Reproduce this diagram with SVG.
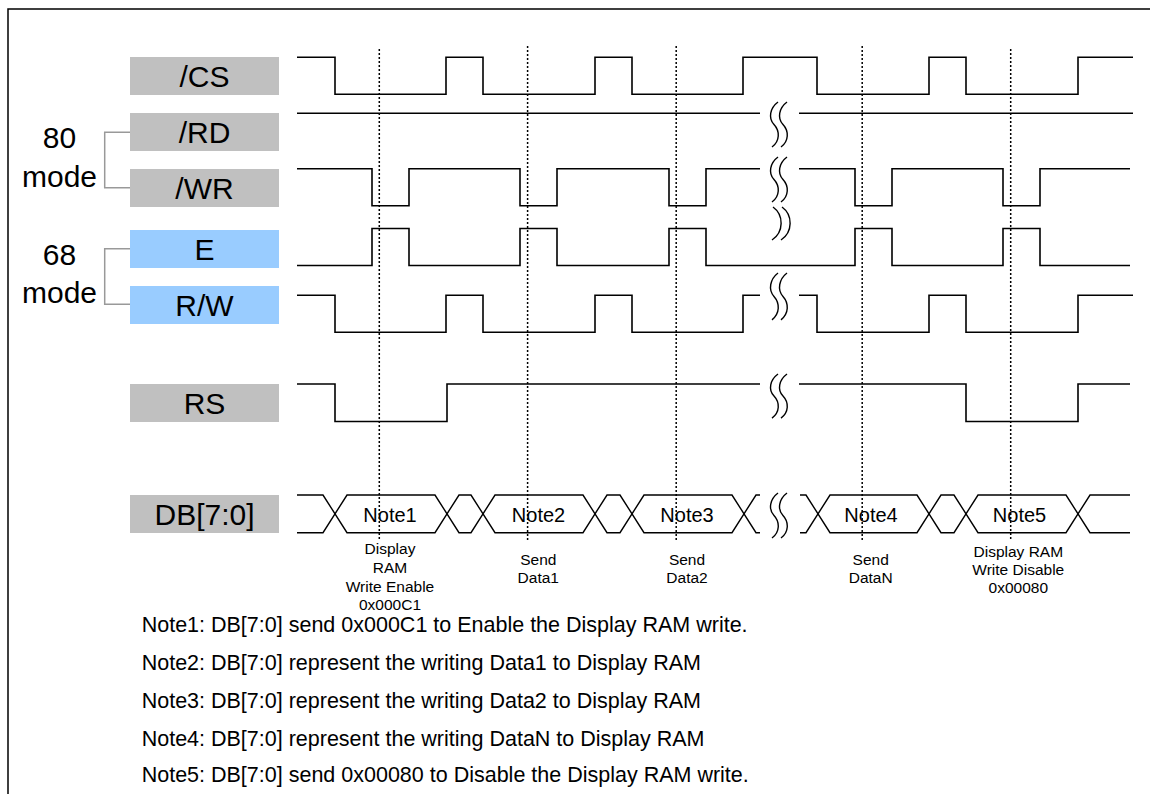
<svg xmlns="http://www.w3.org/2000/svg" xmlns:xlink="http://www.w3.org/1999/xlink" width="1150" height="794" viewBox="0 0 1150 794">
<style>
.box-g{fill:#C0C0C0}
.box-b{fill:#99CCFF}
.lbl{font-family:"Liberation Sans",Arial,sans-serif;font-size:30px;fill:#000;text-anchor:middle}
.sig{fill:none;stroke:#000;stroke-width:1.6}
.db{fill:none;stroke:#000;stroke-width:1.4}
.dot{fill:none;stroke:#000;stroke-width:1.5;stroke-dasharray:2,2}
.brk{fill:none;stroke:#000;stroke-width:1.4}
.brace{fill:none;stroke:#999;stroke-width:1.5}
.hx{font-family:"Liberation Sans",Arial,sans-serif;font-size:20px;fill:#000;text-anchor:middle}
.sm{font-family:"Liberation Sans",Arial,sans-serif;font-size:15.5px;fill:#000;text-anchor:middle}
.note{font-family:"Liberation Sans",Arial,sans-serif;font-size:21.5px;fill:#000}
</style>
<defs>
<path id="sq" d="M9,0 C1,6 -1,16 5,22.5 C11,29 11,39 3,45 M18,0 C10,6 8,16 14,22.5 C20,29 20,39 12,45"/>
</defs>
<rect x="8" y="9" width="1150" height="800" fill="#fff" stroke="#000" stroke-width="1.5"/>

<g id="node-cs"><rect class="box-g" x="130" y="57" width="149" height="38"/><text class="lbl" x="204.5" y="86.5">/CS</text></g>
<g id="node-rd"><rect class="box-g" x="130" y="113" width="149" height="38"/><text class="lbl" x="204.5" y="142.5">/RD</text></g>
<g id="node-wr"><rect class="box-g" x="130" y="169" width="149" height="38"/><text class="lbl" x="204.5" y="198.5">/WR</text></g>
<g id="node-e"><rect class="box-b" x="130" y="230" width="149" height="38"/><text class="lbl" x="204.5" y="259.5">E</text></g>
<g id="node-rw"><rect class="box-b" x="130" y="286" width="149" height="38"/><text class="lbl" x="204.5" y="315.5">R/W</text></g>
<g id="node-rs"><rect class="box-g" x="130" y="384" width="149" height="38"/><text class="lbl" x="204.5" y="413.5">RS</text></g>
<g id="node-db"><rect class="box-g" x="130" y="495" width="149" height="38"/><text class="lbl" x="204.5" y="524.5">DB[7:0]</text></g>

<g id="mode80"><text class="lbl" x="59.5" y="148.3">80</text><text class="lbl" x="59.5" y="186.7">mode</text><path class="brace" d="M130,132.3 H104.7 V187.7 H130"/></g>
<g id="mode68"><text class="lbl" x="59.5" y="265">68</text><text class="lbl" x="59.5" y="303.3">mode</text><path class="brace" d="M130,248.7 H104.7 V304.3 H130"/></g>

<g id="connectors">
<path class="sig" d="M297,57.3 H335 V94.3 H446 V57.3 H483 V94.3 H595 V57.3 H632 V94.3 H743 V57.3 H817 V94.3 H929 V57.3 H966 V94.3 H1078 V57.3 H1133"/>
<path class="sig" d="M297,113.3 H760 M799,113.3 H1133"/>
<path class="sig" d="M297,168.7 H372 V205.7 H409 V168.7 H520 V205.7 H557 V168.7 H669 V205.7 H706 V168.7 H760 M799,168.7 H855 V205.7 H892 V168.7 H1003 V205.7 H1040 V168.7 H1130"/>
<path class="sig" d="M297,265.5 H372 V228.5 H409 V265.5 H520 V228.5 H557 V265.5 H669 V228.5 H706 V265.5 H855 V228.5 H892 V265.5 H1003 V228.5 H1040 V265.5 H1130"/>
<path class="sig" d="M297,295.3 H335 V332.3 H446 V295.3 H483 V332.3 H595 V295.3 H632 V332.3 H743 V295.3 H760 M799,295.3 H817 V332.3 H929 V295.3 H966 V332.3 H1078 V295.3 H1133"/>
<path class="sig" d="M297,384 H335 V421.5 H447 V384 H760 M799,384 H966 V421.5 H1078 V384 H1130"/>
<polyline class="db" points="297,495 323,495 347,532.7 435,532.7 459,495 471,495 495,532.7 583,532.7 607,495 620,495 644,532.7 732,532.7 756,495 760,495"/>
<polyline class="db" points="297,532.7 323,532.7 347,495 435,495 459,532.7 471,532.7 495,495 583,495 607,532.7 620,532.7 644,495 732,495 756,532.7 760,532.7"/>
<polyline class="db" points="800,495 806,495 830,532.7 917,532.7 941,495 954,495 978,532.7 1066,532.7 1090,495 1130,495"/>
<polyline class="db" points="800,532.7 806,532.7 830,495 917,495 941,532.7 954,532.7 978,495 1066,495 1090,532.7 1130,532.7"/>
<use xlink:href="#sq" class="brk" transform="translate(769,102)"/>
<use xlink:href="#sq" class="brk" transform="translate(769,157)"/>
<path class="brk" d="M773,207 C784,215 784,232 772,240 M782,207 C793,215 793,232 781,240"/>
<use xlink:href="#sq" class="brk" transform="translate(769,273) scale(1,1.04)"/>
<use xlink:href="#sq" class="brk" transform="translate(769,374) scale(1,0.98)"/>
<use xlink:href="#sq" class="brk" transform="translate(769,493)"/>
<path class="dot" d="M379.3,49 V541"/>
<path class="dot" d="M527.6,46 V541"/>
<path class="dot" d="M676.2,46 V541"/>
<path class="dot" d="M862.2,46 V541"/>
<path class="dot" d="M1010.7,49 V541"/>
</g>

<g id="db-labels">
<text class="hx" x="390" y="521.5">Note1</text>
<text class="hx" x="538.5" y="521.5">Note2</text>
<text class="hx" x="687" y="521.5">Note3</text>
<text class="hx" x="871" y="521.5">Note4</text>
<text class="hx" x="1019.5" y="521.5">Note5</text>
</g>

<g id="desc">
<text class="sm" x="390" y="554">Display</text>
<text class="sm" x="390" y="572.7">RAM</text>
<text class="sm" x="390" y="591.5">Write Enable</text>
<text class="sm" x="390" y="610">0x000C1</text>
<text class="sm" x="538.3" y="565">Send</text>
<text class="sm" x="538.3" y="583.3">Data1</text>
<text class="sm" x="687" y="565">Send</text>
<text class="sm" x="687" y="583.3">Data2</text>
<text class="sm" x="870.7" y="565">Send</text>
<text class="sm" x="870.7" y="583.3">DataN</text>
<text class="sm" x="1018.3" y="556.5">Display RAM</text>
<text class="sm" x="1018.3" y="575">Write Disable</text>
<text class="sm" x="1018.3" y="593.3">0x00080</text>
</g>

<g id="notes">
<text class="note" x="141.7" y="632">Note1: DB[7:0] send 0x000C1 to Enable the Display RAM write.</text>
<text class="note" x="141.7" y="670">Note2: DB[7:0] represent the writing Data1 to Display RAM</text>
<text class="note" x="141.7" y="708">Note3: DB[7:0] represent the writing Data2 to Display RAM</text>
<text class="note" x="141.7" y="745.5">Note4: DB[7:0] represent the writing DataN to Display RAM</text>
<text class="note" x="141.7" y="782">Note5: DB[7:0] send 0x00080 to Disable the Display RAM write.</text>
</g>
</svg>
